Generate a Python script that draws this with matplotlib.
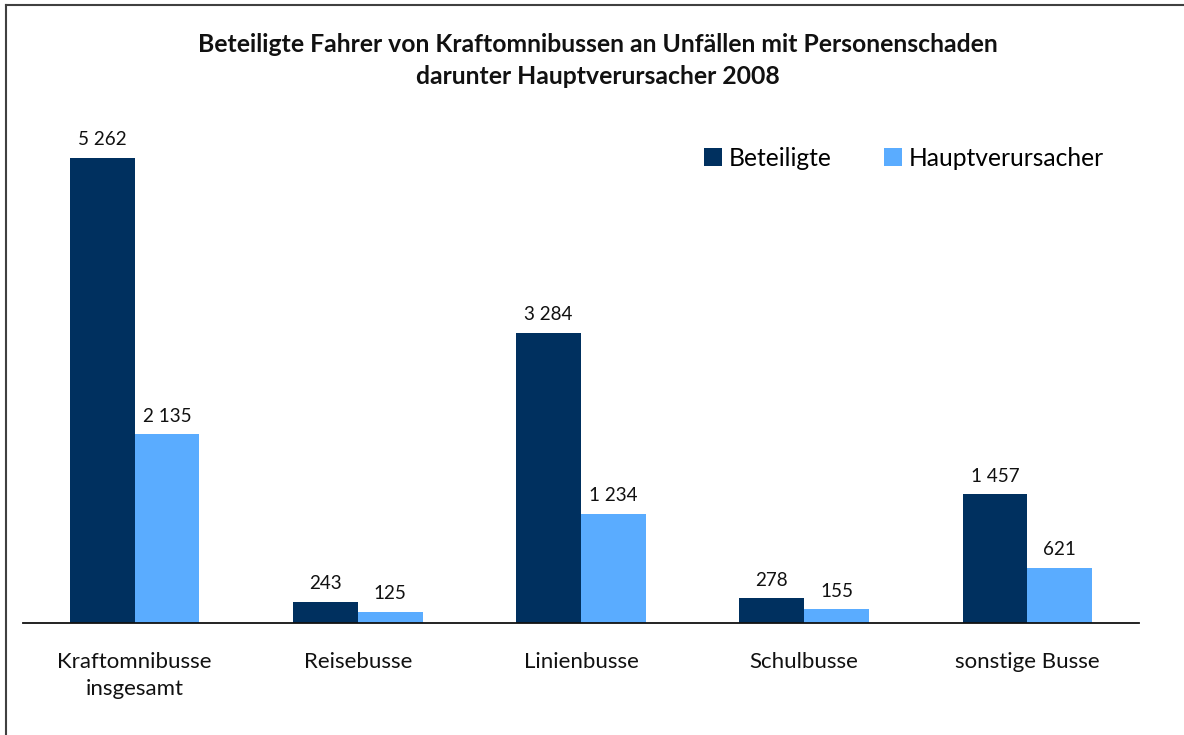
import numpy as np
import matplotlib.pyplot as plt
from matplotlib.lines import Line2D

# Daten
kategorien = ["Kraftomnibusse\ninsgesamt", "Reisebusse", "Linienbusse", "Schulbusse", "sonstige Busse"]
beteiligte = [5262, 243, 3284, 278, 1457]
hauptverursacher = [2135, 125, 1234, 155, 621]
serien = ["Beteiligte", "Hauptverursacher"]

farbe_dunkel = "#00305F"
farbe_hell = "#5AACFF"

plt.rcParams['font.family'] = ['Lato', 'DejaVu Sans']

W, H = 1184, 735
fig = plt.figure(figsize=(W / 100, H / 100), dpi=100)

# Achse in Pixelkoordinaten platzieren
ax_l, ax_r, ax_b, ax_t = 23, 1139, 623, 93
ax = fig.add_axes([ax_l / W, 1 - ax_b / H, (ax_r - ax_l) / W, (ax_b - ax_t) / H])

x = np.arange(len(kategorien))
bw = 0.29

b1 = ax.bar(x - bw / 2, beteiligte, bw, color=farbe_dunkel, label=serien[0])
b2 = ax.bar(x + bw / 2, hauptverursacher, bw, color=farbe_hell, label=serien[1])


def fmt(v):
    return f"{v:,}".replace(",", " ")


for bars, vals in ((b1, beteiligte), (b2, hauptverursacher)):
    for rect, v in zip(bars, vals):
        ax.annotate(fmt(v), (rect.get_x() + rect.get_width() / 2, v),
                    xytext=(0, 7), textcoords="offset points",
                    ha="center", va="bottom", fontsize=13.6, color="#111111")

ax.set_xlim(-0.5, len(kategorien) - 0.5)
ax.set_ylim(0, 6000)
ax.set_xticks(x)
ax.set_xticklabels(kategorien, fontsize=16, color="#111111", linespacing=1.4)
ax.tick_params(axis="x", length=0, pad=21)
ax.set_yticks([])
for s in ("top", "right", "left"):
    ax.spines[s].set_visible(False)
ax.spines["bottom"].set_linewidth(1.3)
ax.spines["bottom"].set_color("#111111")

leg = ax.legend(loc="upper left", bbox_to_anchor=((694 - ax_l) / (ax_r - ax_l), 1 - (137 - ax_t) / (ax_b - ax_t)),
                ncol=2, frameon=False, fontsize=17.7, handlelength=0.73, handleheight=0.73,
                handletextpad=0.3, columnspacing=2.1, borderaxespad=0)

fig.text(598 / W, 1 - 45 / H, "Beteiligte Fahrer von Kraftomnibussen an Unfällen mit Personenschaden",
         ha="center", va="center", fontsize=17.8, fontweight="bold", color="#111111")
fig.text(598 / W, 1 - 76 / H, "darunter Hauptverursacher 2008",
         ha="center", va="center", fontsize=17.8, fontweight="bold", color="#111111")

# Rahmen (links und oben)
fig.add_artist(Line2D([6 / W, 6 / W], [0, 1 - 5 / H], color="#404040", lw=1.5, transform=fig.transFigure))
fig.add_artist(Line2D([6 / W, 1], [1 - 5 / H, 1 - 5 / H], color="#404040", lw=1.5, transform=fig.transFigure))

fig.savefig("out.png", dpi=100)
